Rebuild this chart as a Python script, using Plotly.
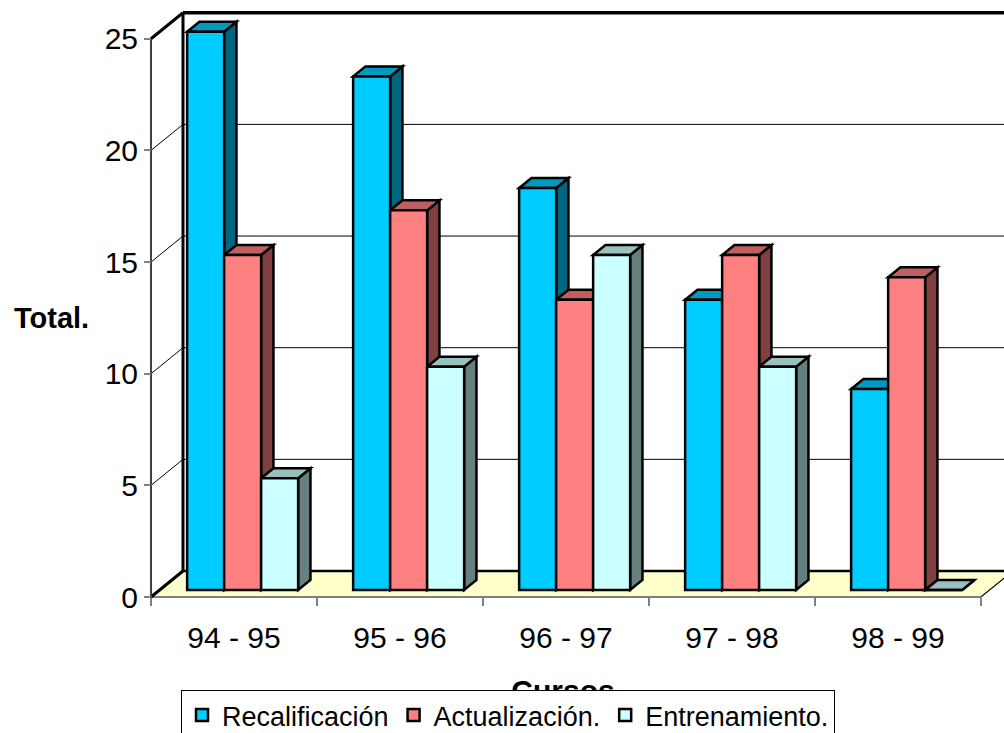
import plotly.graph_objects as go

# ---- data -------------------------------------------------------------
cursos = ["94 - 95", "95 - 96", "96 - 97", "97 - 98", "98 - 99"]
recalificacion = [25, 23, 18, 13, 9]
actualizacion = [15, 17, 13, 15, 14]
entrenamiento = [5, 10, 15, 10, 0]
y_ticks = [0, 5, 10, 15, 20, 25]

series_names = ["Recalificación", "Actualización.", "Entrenamiento."]
series_values = [recalificacion, actualizacion, entrenamiento]
# front, top (75 %) and side (50 %) shades of each series
front_colors = ["#00CCFF", "#FF8080", "#CCFFFF"]
top_colors = ["#0099BF", "#BF6060", "#99BFBF"]
side_colors = ["#006680", "#804040", "#668080"]

# ---- page / axis geometry ---------------------------------------------
W, H = 1004, 733
PL, PT, PB = 146, 4, 733          # plot area edges in pixels
X0_PX, Y0_PX = 151, 597           # pixel of data origin (front corner)
UX, UY = 166.0, 22.33             # pixels per data unit
x_range = [(PL - X0_PX) / UX, (W - X0_PX) / UX]
y_range = [(Y0_PX - PB) / UY, (Y0_PX - PT) / UY]
plot_w, plot_h = W - PL, PB - PT

# oblique depth of the 3-D box, in data units
DX, DY = 32 / UX, 26 / UY
D0, D1 = 0.27, 0.655              # bar depth span as fraction of box depth
BW = 37 / UX                      # bar width
YMAX = y_ticks[-1]
NCAT = len(cursos)


def poly(pts):
    return "M " + " L ".join(f"{x},{y}" for x, y in pts) + " Z"


def seg(p, q, width, color="black"):
    return dict(type="line", xref="x", yref="y", x0=p[0], y0=p[1], x1=q[0], y1=q[1],
                line=dict(color=color, width=width), layer="below")


shapes = []
# floor
shapes.append(dict(type="path", xref="x", yref="y", layer="below",
                   path=poly([(0, 0), (DX, DY), (NCAT + DX, DY), (NCAT, 0)]),
                   fillcolor="#FFFFCC", line=dict(color="black", width=1.2)))
shapes.append(seg((0, 0), (NCAT, 0), 1.5, "#808080"))
shapes.append(seg((0, 0), (DX, DY), 3))
shapes.append(seg((DX, DY), (NCAT + DX, DY), 2.5))
# gridlines on side and back walls
for v in y_ticks[1:-1]:
    shapes.append(seg((0, v), (DX, v + DY), 1))
    shapes.append(seg((DX, v + DY), (NCAT + DX, v + DY), 1))
# wall edges
shapes.append(seg((0, 0), (0, YMAX), 2, "#404040"))
shapes.append(seg((0, YMAX), (DX, YMAX + DY), 3))
shapes.append(seg((DX, DY), (DX, YMAX + DY), 3))
shapes.append(seg((DX, YMAX + DY), (NCAT + DX + 1, YMAX + DY), 3.5))

# side and top faces of each bar, painted left to right
base = D0 * DY
ddx, ddy = (D1 - D0) * DX, (D1 - D0) * DY
bar_x = []
for k in range(len(series_values)):
    bar_x.append([i + 0.5 + (k - 1) * BW + D0 * DX for i in range(NCAT)])

for i in range(NCAT):
    for k, vals in enumerate(series_values):
        xc = bar_x[k][i]
        xl, xr = xc - BW / 2, xc + BW / 2
        top = base + vals[i]
        shapes.append(dict(type="path", xref="x", yref="y", layer="below",
                           path=poly([(xr, base), (xr, top), (xr + ddx, top + ddy), (xr + ddx, base + ddy)]),
                           fillcolor=side_colors[k], line=dict(color="black", width=2.5)))
        shapes.append(dict(type="path", xref="x", yref="y", layer="below",
                           path=poly([(xl, top), (xr, top), (xr + ddx, top + ddy), (xl + ddx, top + ddy)]),
                           fillcolor=top_colors[k], line=dict(color="black", width=2.5)))

fig = go.Figure()
# front faces of the bars
for k, (name, vals) in enumerate(zip(series_names, series_values)):
    fig.add_trace(go.Bar(
        name=name, x=bar_x[k], y=vals, base=[base] * NCAT, width=BW,
        marker=dict(color=front_colors[k], line=dict(color="black", width=2.5)),
        hoverinfo="skip",
    ))

# category axis title, sitting underneath the legend box
fig.add_trace(go.Scatter(
    x=[(563 - X0_PX) / UX], y=[(Y0_PX - 693) / UY], mode="text",
    text=["<b>Cursos</b>"], textfont=dict(size=30, color="black"),
    showlegend=False, hoverinfo="skip",
))

font_family = "Liberation Sans, Arial, sans-serif"
fig.update_layout(
    width=W, height=H,
    margin=dict(l=PL, r=0, t=PT, b=H - PB, autoexpand=False),
    paper_bgcolor="white", plot_bgcolor="white",
    font=dict(family=font_family, color="black"),
    barmode="overlay",
    shapes=shapes,
    showlegend=True,
    legend=dict(
        orientation="h", x=(181 - PL) / plot_w, y=(PB - 690) / plot_h,
        xanchor="left", yanchor="top", bgcolor="white",
        bordercolor="black", borderwidth=1, font=dict(size=27),
        itemwidth=30, traceorder="normal",
    ),
    xaxis=dict(
        range=x_range, anchor="free", position=(PB - Y0_PX) / plot_h,
        tickmode="array", tickvals=[i + 0.5 for i in range(NCAT)], ticktext=cursos,
        ticks="", showgrid=False, zeroline=False, showline=False,
        tickfont=dict(size=30), ticklabelstandoff=20,
        minor=dict(tickmode="array", tickvals=list(range(NCAT + 1)), ticks="outside",
                   ticklen=8, tickwidth=1.5, tickcolor="#808080", showgrid=False),
    ),
    yaxis=dict(
        range=y_range, anchor="free", position=(X0_PX - PL) / plot_w,
        tickmode="array", tickvals=y_ticks, ticks="outside", ticklen=7,
        tickwidth=1.5, tickcolor="#808080", showgrid=False, zeroline=False,
        showline=False, tickfont=dict(size=30),
    ),
    annotations=[dict(
        text="<b>Total.</b>", xref="paper", yref="paper",
        x=(51 - PL) / plot_w, y=(PB - 318) / plot_h, xanchor="center", yanchor="middle",
        showarrow=False, font=dict(size=29, color="black"),
    )],
)

fig.write_html("out.html")
